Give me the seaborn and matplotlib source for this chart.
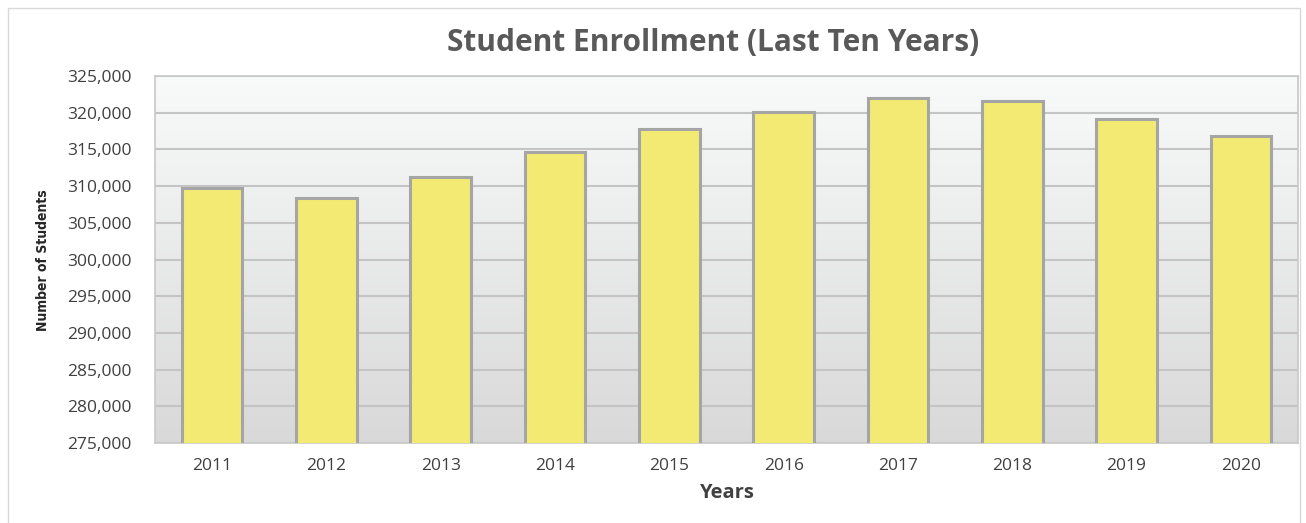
import matplotlib.pyplot as plt
import numpy as np
import pandas as pd
import seaborn as sns
from matplotlib.patches import Rectangle
from matplotlib.ticker import FuncFormatter

# Enrollment per year
years = ["2011", "2012", "2013", "2014", "2015", "2016", "2017", "2018", "2019", "2020"]
students = [309800, 308400, 311200, 314650, 317750, 320150, 321950, 321650, 319200, 316800]
yticks = list(range(275000, 325001, 5000))

df = pd.DataFrame({"Years": years, "Students": students})

sns.set_style("white")
plt.rcParams["font.family"] = ["Open Sans", "DejaVu Sans"]

fig = plt.figure(figsize=(13.06, 5.23), dpi=100)
ax = fig.add_axes([155 / 1306, 1 - 443 / 523, 1143 / 1306, 367 / 523])

# Gradient background of the plot area
grad = np.linspace(0, 1, 256).reshape(-1, 1)
top = np.array([0.975, 0.98, 0.98])
bottom = np.array([0.85, 0.85, 0.85])
img = top + (bottom - top) * grad[..., None]
ax.imshow(img, extent=[0, 1, 0, 1], transform=ax.transAxes, aspect="auto", zorder=0)

sns.barplot(data=df, x="Years", y="Students", color="#f2ea72", saturation=1,
            width=0.53, edgecolor="#a5a5a5", linewidth=2.2, ax=ax, zorder=3)

ax.set_ylim(275000, 325000)
ax.set_yticks(yticks)
ax.yaxis.set_major_formatter(FuncFormatter(lambda v, p: f"{int(v):,}"))
ax.grid(axis="y", color="#c4c4c4", linewidth=1.5, zorder=1)
ax.set_axisbelow(True)
for s in ax.spines.values():
    s.set_color("#c8c8c8")
    s.set_linewidth(1.2)
ax.tick_params(axis="both", length=0, labelsize=12.5, labelcolor="#404040")
ax.tick_params(axis="x", pad=11)
ax.tick_params(axis="y", pad=17)

ax.set_xlabel("Years", fontsize=14.5, fontweight="bold", color="#404040", labelpad=6)
ax.set_ylabel("")
fig.text(43 / 1306, 1 - 260 / 523, "Number of Students", rotation=90, ha="center", va="center",
         fontsize=10, fontweight="bold", color="#262626", fontstretch="condensed",
         family=["Liberation Sans Narrow", "DejaVu Sans"])

fig.text(713 / 1306, 1 - 43 / 523, "Student Enrollment (Last Ten Years)", ha="center", va="center",
         fontsize=21.5, fontweight="bold", color="#595959")

# Outer chart border
fig.patches.append(Rectangle((8 / 1306, -0.01), 1292 / 1306, 1 - 8 / 523 + 0.01, transform=fig.transFigure,
                             fill=False, edgecolor="#d9d9d9", linewidth=1))

plt.savefig("out.png", dpi=100)
